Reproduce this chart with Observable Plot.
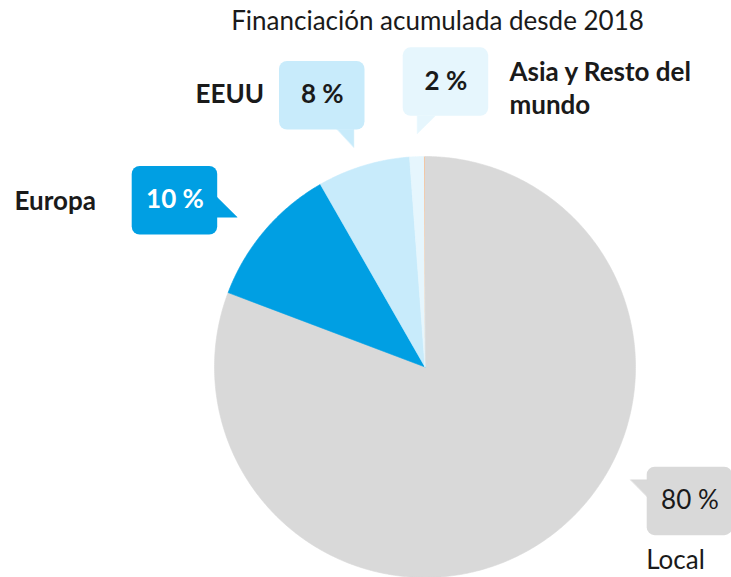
<!DOCTYPE html>
<html>
<head>
<meta charset="utf-8">
<script src="https://cdn.jsdelivr.net/npm/d3@7"></script>
<script src="https://cdn.jsdelivr.net/npm/@observablehq/plot@0.6"></script>
<style>
  html, body { margin: 0; padding: 0; background: #ffffff; }
  #chart svg { display: block; }
</style>
</head>
<body>
<div id="chart"></div>
<script>
// ---- data ----
const chartTitle = "Financiación acumulada desde 2018";
const categories = ["Local", "Europa", "EEUU", "Asia y Resto del\nmundo", "Otros"];
const shares = [80.75, 10.97, 7.11, 1.09, 0.08];
const shareLabels = ["80 %", "10 %", "8 %", "2 %", ""];
const sliceColors = ["#d9d9d9", "#009fe3", "#c8ebfb", "#e6f6fd", "#f2c7a6"];

// ---- layout (pixels) ----
const W = 731, H = 577;
const FONT = "Lato, 'Source Sans Pro', sans-serif";
const FS = 26;
const pieCenter = {x: 424.5, y: 366.5};
const pieRadius = 210.5;
const boxW = 85.5, boxH = 68.5, boxR = 8;
// callout layout per category index: box top-left, tail triangle, name label position
const calloutLayout = [
  {box: [646.7, 466.7], tail: [[630, 479.3], [647.5, 479.3], [647.5, 497]], textColor: "#1a1a1a", weight: "normal",
   name: {x: 675, y: 568, anchor: "middle", weight: "normal"}},
  {box: [131.7, 166], tail: [[216.5, 196.7], [236.7, 216.7], [216.5, 216.7]], textColor: "#ffffff", weight: "bold",
   name: {x: 14, y: 209.5, anchor: "start", weight: "bold"}},
  {box: [279, 61], tail: [[336.7, 128.8], [353.3, 128.8], [353.3, 146.7]], textColor: "#1a1a1a", weight: "bold",
   name: {x: 195, y: 102.3, anchor: "start", weight: "bold"}},
  {box: [402.7, 47.3], tail: [[416.7, 115.2], [416.7, 133.3], [435, 115.2]], textColor: "#1a1a1a", weight: "bold",
   name: {x: 509, y: 113, anchor: "start", weight: "bold"}}
];

// ---- build tables ----
const rows = categories.map((c, i) => ({category: c, share: shares[i], label: shareLabels[i], color: sliceColors[i]}));
const arcs = d3.pie().sort(null).value(d => d.share)(rows);

const slicePolys = arcs.map(a => {
  const pts = [{x: pieCenter.x, y: pieCenter.y}];
  const n = Math.max(2, Math.ceil((a.endAngle - a.startAngle) / (Math.PI / 360)));
  for (let k = 0; k <= n; k++) {
    const t = a.startAngle + (a.endAngle - a.startAngle) * k / n;
    pts.push({x: pieCenter.x + pieRadius * Math.sin(t), y: pieCenter.y - pieRadius * Math.cos(t)});
  }
  pts.push({x: pieCenter.x, y: pieCenter.y});
  return {color: a.data.color, pts, tiny: a.data.share < 0.5};
});

const callouts = calloutLayout.map((L, i) => ({
  ...L, label: rows[i].label, category: rows[i].category, color: rows[i].color,
  x1: L.box[0], x2: L.box[0] + boxW, y1: L.box[1], y2: L.box[1] + boxH
}));

const marks = [];
// pie slices
for (const s of slicePolys) {
  marks.push(Plot.line(s.pts, {x: "x", y: "y", fill: s.color, stroke: s.tiny ? "none" : s.color, strokeWidth: 0.6, curve: "linear-closed"}));
}
// callout boxes and tails
for (const c of callouts) {
  marks.push(Plot.rect([c], {x1: "x1", x2: "x2", y1: "y1", y2: "y2", fill: c.color, rx: boxR}));
  marks.push(Plot.line(c.tail.map(p => ({x: p[0], y: p[1]})), {x: "x", y: "y", fill: c.color, stroke: c.color, strokeWidth: 0.5, curve: "linear-closed"}));
  marks.push(Plot.text([c], {
    x: d => (d.x1 + d.x2) / 2, y: d => (d.y1 + d.y2) / 2 + 7.5, text: "label",
    fill: c.textColor, fontWeight: c.weight, fontSize: FS, fontFamily: FONT, textAnchor: "middle", lineAnchor: "bottom"
  }));
  marks.push(Plot.text([c], {
    x: () => c.name.x, y: () => c.name.y, text: "category",
    fill: "#1a1a1a", fontWeight: c.name.weight, fontSize: FS, fontFamily: FONT,
    textAnchor: c.name.anchor, lineAnchor: "bottom", lineHeight: 32.4 / FS
  }));
}
// title
marks.push(Plot.text([chartTitle], {
  x: () => 437, y: () => 29.3, text: d => d, fill: "#1a1a1a", fontSize: FS, fontFamily: FONT,
  textAnchor: "middle", lineAnchor: "bottom"
}));

const chart = Plot.plot({
  width: W, height: H, margin: 0,
  x: {domain: [0, W], axis: null},
  y: {domain: [0, H], range: [0, H], axis: null},
  style: {fontFamily: FONT, background: "#ffffff"},
  marks
});
document.getElementById("chart").append(chart);
</script>
</body>
</html>
